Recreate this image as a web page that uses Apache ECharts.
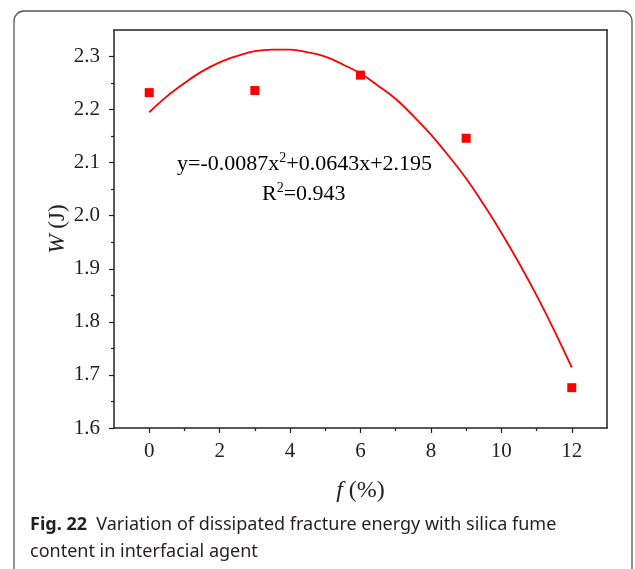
<!DOCTYPE html>
<html>
<head>
<meta charset="utf-8">
<script src="https://cdn.jsdelivr.net/npm/echarts@6/dist/echarts.min.js"></script>
<style>
  html, body { margin: 0; padding: 0; background: #fff; }
  #main { width: 635px; height: 569px; }
</style>
</head>
<body>
<div id="main"></div>
<script>
// measured points: silica fume content f (%) and dissipated energy W (J)
const fValues = [0, 3, 6, 9, 12];
const wValues = [2.232, 2.236, 2.265, 2.146, 1.676];

// fitted curve
const fitF = [0, 0.5, 1, 1.5, 2, 2.5, 3, 3.5, 4, 4.5, 5, 5.5, 6,
  6.5, 7, 7.5, 8, 8.5, 9, 9.5, 10, 10.5, 11, 11.5, 12];
const fitW = [2.195, 2.225, 2.25, 2.272, 2.289, 2.301, 2.31, 2.313, 2.313, 2.308, 2.3, 2.285, 2.268,
  2.245, 2.22, 2.188, 2.153, 2.113, 2.07, 2.021, 1.968, 1.911, 1.85, 1.784, 1.714];

// tick positions
const xMajor = [0, 2, 4, 6, 8, 10, 12];
const xMinor = [1, 3, 5, 7, 9, 11];
const yMajor = [1.6, 1.7, 1.8, 1.9, 2.0, 2.1, 2.2, 2.3];
const yMinor = [1.65, 1.75, 1.85, 1.95, 2.05, 2.15, 2.25];

const myChart = echarts.init(document.getElementById('main'));

const serif = '"Liberation Serif", "Times New Roman", serif';
const sans = '"Noto Sans", "Open Sans", sans-serif';
const axisColor = '#222';

const xRange = { min: -1, max: 13 };
const yRange = { min: 1.6, max: 2.35 };

const option = {
  animation: false,
  grid: { left: 114, top: 30, right: 28, bottom: 141 },
  xAxis: [
    {
      type: 'value', position: 'bottom', ...xRange,
      axisLine: { onZero: false, lineStyle: { color: axisColor, width: 1.5 } },
      axisTick: { customValues: xMajor, length: 5, lineStyle: { color: axisColor, width: 1.2 } },
      axisLabel: {
        customValues: xMajor, margin: 13,
        fontFamily: serif, fontSize: 21, color: '#222'
      },
      splitLine: { show: false },
      name: '{i|f} (%)',
      nameLocation: 'middle',
      nameGap: 51,
      nameMoveOverlap: false,
      nameTextStyle: {
        fontFamily: serif, fontSize: 24, color: '#222',
        rich: { i: { fontFamily: serif, fontSize: 24, fontStyle: 'italic', color: '#222' } }
      }
    },
    {
      // minor ticks on the bottom axis
      type: 'value', position: 'bottom', ...xRange,
      axisLine: { show: false, onZero: false },
      axisTick: { customValues: xMinor, length: 3, lineStyle: { color: axisColor, width: 1.2 } },
      axisLabel: { show: false },
      splitLine: { show: false }
    },
    {
      type: 'value', position: 'top', ...xRange,
      axisLine: { onZero: false, lineStyle: { color: axisColor, width: 1.5 } },
      axisTick: { show: false },
      axisLabel: { show: false },
      splitLine: { show: false }
    }
  ],
  yAxis: [
    {
      type: 'value', position: 'left', ...yRange,
      axisLine: { onZero: false, lineStyle: { color: axisColor, width: 1.5 } },
      axisTick: { customValues: yMajor, length: 5, lineStyle: { color: axisColor, width: 1.2 } },
      axisLabel: {
        customValues: yMajor, margin: 14,
        formatter: (v) => v.toFixed(1),
        fontFamily: serif, fontSize: 21, color: '#222'
      },
      splitLine: { show: false },
      name: '{i|W} (J)',
      nameLocation: 'middle',
      nameGap: 45,
      nameMoveOverlap: false,
      nameTextStyle: {
        fontFamily: serif, fontSize: 23, color: '#222',
        rich: { i: { fontFamily: serif, fontSize: 23, fontStyle: 'italic', color: '#222' } }
      }
    },
    {
      type: 'value', position: 'left', ...yRange,
      axisLine: { show: false, onZero: false },
      axisTick: { customValues: yMinor, length: 3, lineStyle: { color: axisColor, width: 1.2 } },
      axisLabel: { show: false },
      splitLine: { show: false }
    },
    {
      type: 'value', position: 'right', ...yRange,
      axisLine: { onZero: false, lineStyle: { color: axisColor, width: 1.5 } },
      axisTick: { show: false },
      axisLabel: { show: false },
      splitLine: { show: false }
    }
  ],
  series: [
    {
      type: 'line',
      name: 'fit',
      data: fitF.map((f, i) => [f, fitW[i]]),
      smooth: 0.4,
      symbol: 'none',
      lineStyle: { color: '#ff0000', width: 1.8 },
      z: 2
    },
    {
      type: 'scatter',
      name: 'W',
      data: fValues.map((f, i) => [f, wValues[i]]),
      symbol: 'rect',
      symbolSize: 9,
      itemStyle: { color: '#ff0000', opacity: 1 },
      z: 3
    }
  ],
  graphic: [
    {
      type: 'rect',
      shape: { x: 14, y: 11, width: 618, height: 600, r: 10 },
      style: { fill: 'none', stroke: '#555', lineWidth: 1.3 },
      silent: true
    },
    {
      type: 'text',
      left: 177, top: 151,
      style: {
        text: '{n|y=-0.0087x}{s|2}{n|+0.0643x+2.195}',
        rich: {
          n: { fontFamily: serif, fontSize: 22, lineHeight: 26, color: '#222' },
          s: { fontFamily: serif, fontSize: 14, lineHeight: 26, verticalAlign: 'top', color: '#222' }
        }
      }
    },
    {
      type: 'text',
      left: 262, top: 181,
      style: {
        text: '{n|R}{s|2}{n|=0.943}',
        rich: {
          n: { fontFamily: serif, fontSize: 22, lineHeight: 26, color: '#222' },
          s: { fontFamily: serif, fontSize: 14, lineHeight: 26, verticalAlign: 'top', color: '#222' }
        }
      }
    },
    {
      type: 'text',
      left: 30, top: 511,
      style: {
        text: '{b|Fig. 22}  Variation of dissipated fracture energy with silica fume\ncontent in interfacial agent',
        fontFamily: sans, fontSize: 18, lineHeight: 27, fill: '#231f20',
        rich: { b: { fontFamily: sans, fontSize: 18, fontWeight: 'bold', lineHeight: 27, color: '#231f20' } }
      }
    }
  ]
};

myChart.setOption(option);
</script>
</body>
</html>
